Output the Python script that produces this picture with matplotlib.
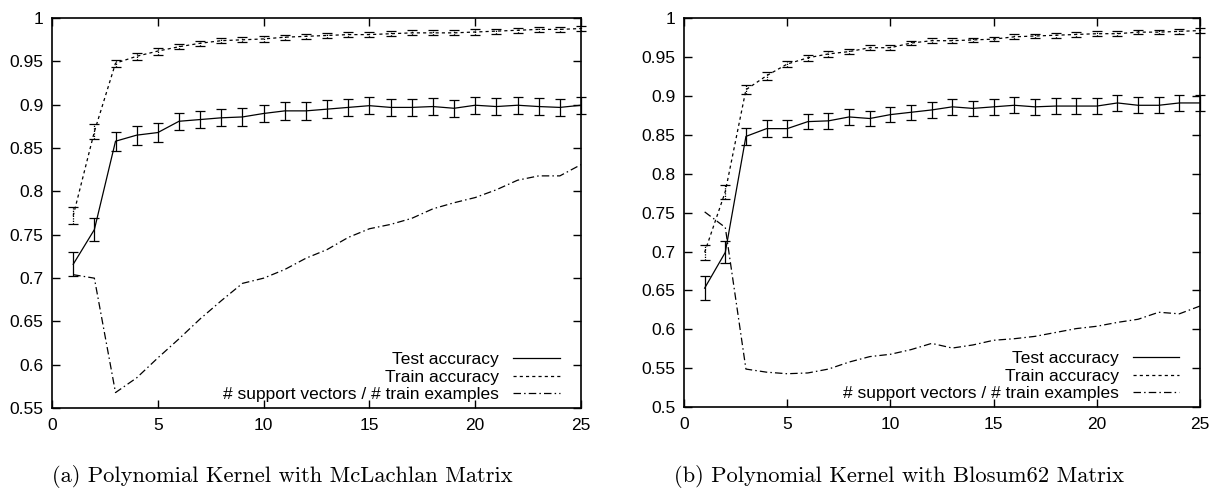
###########
# Imports #
###########
import numpy as np
import matplotlib.pyplot as plt
from matplotlib.ticker import FormatStrFormatter

###########
# Globals #
###########
plt.rcParams['font.family'] = ['Liberation Sans', 'DejaVu Sans']

degree = list(range(1, 26))

# (a) McLachlan matrix
test_a = [0.716, 0.756, 0.858, 0.865, 0.868, 0.881, 0.883, 0.885, 0.886, 0.890,
          0.893, 0.893, 0.895, 0.897, 0.899, 0.897, 0.897, 0.898, 0.896, 0.8995,
          0.898, 0.8995, 0.898, 0.897, 0.8995]
test_a_err = [0.014, 0.013, 0.011, 0.011, 0.011, 0.010, 0.010, 0.010, 0.010, 0.010,
              0.010, 0.010, 0.010, 0.010, 0.010, 0.010, 0.010, 0.010, 0.010, 0.010,
              0.010, 0.010, 0.010, 0.010, 0.010]
train_a = [0.772, 0.869, 0.948, 0.956, 0.962, 0.967, 0.971, 0.974, 0.975, 0.976,
           0.978, 0.979, 0.980, 0.981, 0.981, 0.982, 0.983, 0.983, 0.983, 0.984,
           0.985, 0.986, 0.987, 0.987, 0.988]
train_a_err = [0.010, 0.009, 0.004, 0.004, 0.004, 0.003, 0.003, 0.003, 0.003, 0.003,
               0.003, 0.003, 0.003, 0.003, 0.003, 0.003, 0.003, 0.003, 0.003, 0.003,
               0.003, 0.003, 0.003, 0.003, 0.003]
sv_a = [0.704, 0.700, 0.568, 0.585, 0.608, 0.630, 0.653, 0.674, 0.694, 0.700,
        0.710, 0.723, 0.733, 0.747, 0.757, 0.762, 0.769, 0.780, 0.787, 0.793,
        0.802, 0.813, 0.818, 0.818, 0.831]

# (b) Blosum62 matrix
test_b = [0.653, 0.699, 0.848, 0.858, 0.858, 0.867, 0.868, 0.873, 0.871, 0.876,
          0.879, 0.882, 0.886, 0.884, 0.886, 0.888, 0.886, 0.887, 0.887, 0.887,
          0.891, 0.888, 0.888, 0.891, 0.891]
test_b_err = [0.015, 0.014, 0.011, 0.011, 0.011, 0.010, 0.010, 0.010, 0.010, 0.010,
              0.010, 0.010, 0.010, 0.010, 0.010, 0.010, 0.010, 0.010, 0.010, 0.010,
              0.010, 0.010, 0.010, 0.010, 0.010]
train_b = [0.699, 0.777, 0.908, 0.926, 0.941, 0.949, 0.954, 0.957, 0.962, 0.962,
           0.968, 0.971, 0.971, 0.972, 0.973, 0.976, 0.977, 0.978, 0.979, 0.980,
           0.980, 0.982, 0.982, 0.983, 0.984]
train_b_err = [0.010, 0.009, 0.006, 0.005, 0.004, 0.004, 0.004, 0.003, 0.003, 0.003,
               0.003, 0.003, 0.003, 0.003, 0.003, 0.003, 0.003, 0.003, 0.003, 0.003,
               0.003, 0.003, 0.003, 0.003, 0.003]
sv_b = [0.751, 0.731, 0.549, 0.545, 0.543, 0.544, 0.549, 0.558, 0.565, 0.568,
        0.574, 0.582, 0.576, 0.580, 0.586, 0.588, 0.591, 0.596, 0.601, 0.604,
        0.609, 0.613, 0.622, 0.620, 0.630]

labels = ['Test accuracy', 'Train accuracy', '# support vectors / # train examples']
captions = ['(a) Polynomial Kernel with McLachlan Matrix',
            '(b) Polynomial Kernel with Blosum62 Matrix']

TRAIN_DASH = (0, (2.5, 2.5))
SV_DASH = (0, (6, 2.5, 1.2, 2.5))
FONT_SIZE = 12.5

#############
# Functions #
#############


def Draw_Panel(ax, test, test_err, train, train_err, sv, ylow):
    '''
    Draw one gnuplot-like panel: two accuracy curves with error bars and
    the support vector ratio.
    '''
    lw = 0.9
    # test accuracy, solid with caps
    eb_test = ax.errorbar(degree, test, yerr=test_err, color='black', lw=lw,
                          elinewidth=lw, capsize=3.5, capthick=lw)
    for art in eb_test.lines[1] + eb_test.lines[2]:
        art.set_clip_on(False)
    # train accuracy, dotted bars
    eb_train = ax.errorbar(degree, train, yerr=train_err, color='black', lw=lw,
                           ls=TRAIN_DASH, elinewidth=lw, capsize=3.5, capthick=lw)
    for bar in eb_train.lines[2]:
        bar.set_linestyle((0, (1, 1)))
        bar.set_clip_on(False)
    for cap in eb_train.lines[1]:
        cap.set_color('0.45')
        cap.set_clip_on(False)
    # support vector ratio
    sv_line, = ax.plot(degree, sv, color='black', lw=lw, ls=SV_DASH)

    ax.set_xlim(0, 25)
    ax.set_ylim(ylow, 1)
    ax.set_xticks(np.arange(0, 26, 5))
    ax.set_yticks(np.arange(ylow, 1.001, 0.05))
    ax.yaxis.set_major_formatter(FormatStrFormatter('%g'))
    ax.tick_params(direction='in', top=True, right=True, length=6, width=1,
                   labelsize=FONT_SIZE)
    ax.tick_params(axis='x', pad=7)
    ax.tick_params(axis='y', pad=6)
    for sp in ax.spines.values():
        sp.set_linewidth(1.2)

    # legend, gnuplot style: text right aligned, sample on the right
    handles = [eb_test.lines[0], eb_train.lines[0], sv_line]
    ax.legend(handles, labels, loc='lower right', bbox_to_anchor=(0.96, 0.016),
              frameon=False, markerfirst=False, fontsize=FONT_SIZE,
              handlelength=2.7, handletextpad=0.8, labelspacing=0.12,
              borderpad=0, borderaxespad=0)


########
# Main #
########
fig = plt.figure(figsize=(12.13, 4.9), dpi=100)
ax_a = fig.add_axes([0.0429, 0.167, 0.4361, 0.796])
ax_b = fig.add_axes([0.5639, 0.169, 0.4254, 0.794])

Draw_Panel(ax_a, test_a, test_a_err, train_a, train_a_err, sv_a, 0.55)
Draw_Panel(ax_b, test_b, test_b_err, train_b, train_b_err, sv_b, 0.5)

fig.text(0.233, 1 - 476 / 490, captions[0], family='cmr10', fontsize=16.2,
         ha='center', va='center')
fig.text(0.741, 1 - 476 / 490, captions[1], family='cmr10', fontsize=16.2,
         ha='center', va='center')

fig.savefig('out.png', dpi=100)
